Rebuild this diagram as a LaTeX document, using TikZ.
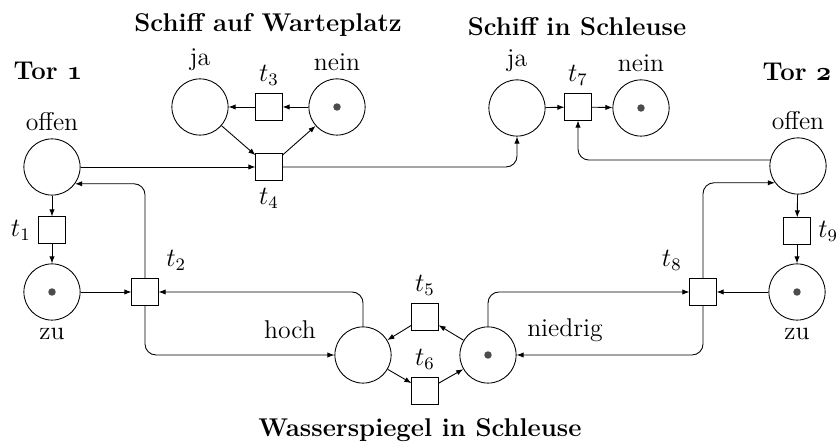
\documentclass[tikz,border=0pt]{standalone}
\usetikzlibrary{arrows.meta}
\tikzset{
  place/.style={draw, circle, thin, minimum size=0.9cm, inner sep=0pt},
  trans/.style={draw, rectangle, thin, minimum size=0.42cm, inner sep=0pt},
  marked/.style={path picture={\fill[black!70] (path picture bounding box.center) circle (1.7pt);}},
  flow/.style={->, thin, rounded corners=5pt},
  >={Latex[length=3.2pt,width=2.4pt]}
}
\newcommand{\torno}[1]{{\usefont{OML}{cmm}{b}{it}#1}}
\begin{document}
\begin{tikzpicture}[x=0.016cm, y=-0.016cm, font=\fontsize{11.7}{14}\selectfont]
                \useasboundingbox (0,0) rectangle (838,443);
                % Headings
                \node (hwarte) at (268,25) {\bfseries Schiff auf Warteplatz};
                \node (hschleuse) at (577,27) {\bfseries Schiff in Schleuse};
                \node (hwasser) at (420,430) {\bfseries Wasserspiegel in Schleuse};
                \node (htor1) at (48,71) {\bfseries Tor \torno{1}};
                \node (htor2) at (797,72) {\bfseries Tor \torno{2}};
                % Tor 1
                \node[place, label=above:offen] (offen1) at (52,167) {};
                \node[trans, label=left:$t_1$] (t1) at (52,230) {};
                \node[place, marked, label=below:zu] (zu1) at (52,292) {};
                \node[trans, label=above right:$t_2$] (t2) at (145,292) {};
                % Schiff auf Warteplatz
                \node[place, label=above:ja] (ja1) at (200,107) {};
                \node[trans, label=above:$t_3$] (t3) at (269,107) {};
                \node[place, marked, label=above:nein] (nein1) at (337,107) {};
                \node[trans, label=below:$t_4$] (t4) at (269,167) {};
                % Schiff in Schleuse
                \node[place, label=above:ja] (ja2) at (517,108) {};
                \node[trans, label=above:$t_7$] (t7) at (578,107) {};
                \node[place, marked, label=above:nein] (nein2) at (641,108) {};
                % Wasserspiegel
                \node[place] (hoch) at (363,355) {};
                \node (lhoch) at (290,330) {hoch};
                \node[trans, label=above:$t_5$] (t5) at (425,317) {};
                \node[trans, label=above:$t_6$] (t6) at (425,391) {};
                \node[place, marked] (niedrig) at (488,355) {};
                \node (lniedrig) at (565,330) {niedrig};
                % Tor 2
                \node[place, label=above:offen] (offen2) at (798,166) {};
                \node[trans, label=right:$t_9$] (t9) at (797,231) {};
                \node[place, marked, label=below:zu] (zu2) at (797,292) {};
                \node[trans, label=above left:$t_8$] (t8) at (703,292) {};
                % Arcs Tor 1
                \draw[flow] (offen1) -- (t1);
                \draw[flow] (t1) -- (zu1);
                \draw[flow] (zu1) -- (t2);
                \draw[flow] (t2.north) |- (offen1.-36);
                \draw[flow] (t2.south) |- (hoch.west);
                \draw[flow] (hoch.north) |- (t2.east);
                \draw[flow] (offen1) -- (t4);
                % Arcs Schiff
                \draw[flow] (nein1) -- (t3);
                \draw[flow] (t3) -- (ja1);
                \draw[flow] (ja1) -- (t4);
                \draw[flow] (t4) -- (nein1);
                \draw[flow] (t4.east) -| (ja2.south);
                \draw[flow] (ja2) -- (t7);
                \draw[flow] (t7) -- (nein2);
                \draw[flow] (offen2.168) -| (t7.south);
                % Arcs Wasserspiegel
                \draw[flow] (t5) -- (hoch);
                \draw[flow] (hoch) -- (t6);
                \draw[flow] (niedrig) -- (t5);
                \draw[flow] (t6) -- (niedrig);
                % Arcs Tor 2
                \draw[flow] (niedrig.north) |- (t8.west);
                \draw[flow] (t8.south) |- (niedrig.east);
                \draw[flow] (zu2) -- (t8);
                \draw[flow] (t8.north) |- (offen2.216);
                \draw[flow] (offen2) -- (t9);
                \draw[flow] (t9) -- (zu2);
\end{tikzpicture}
\end{document}
